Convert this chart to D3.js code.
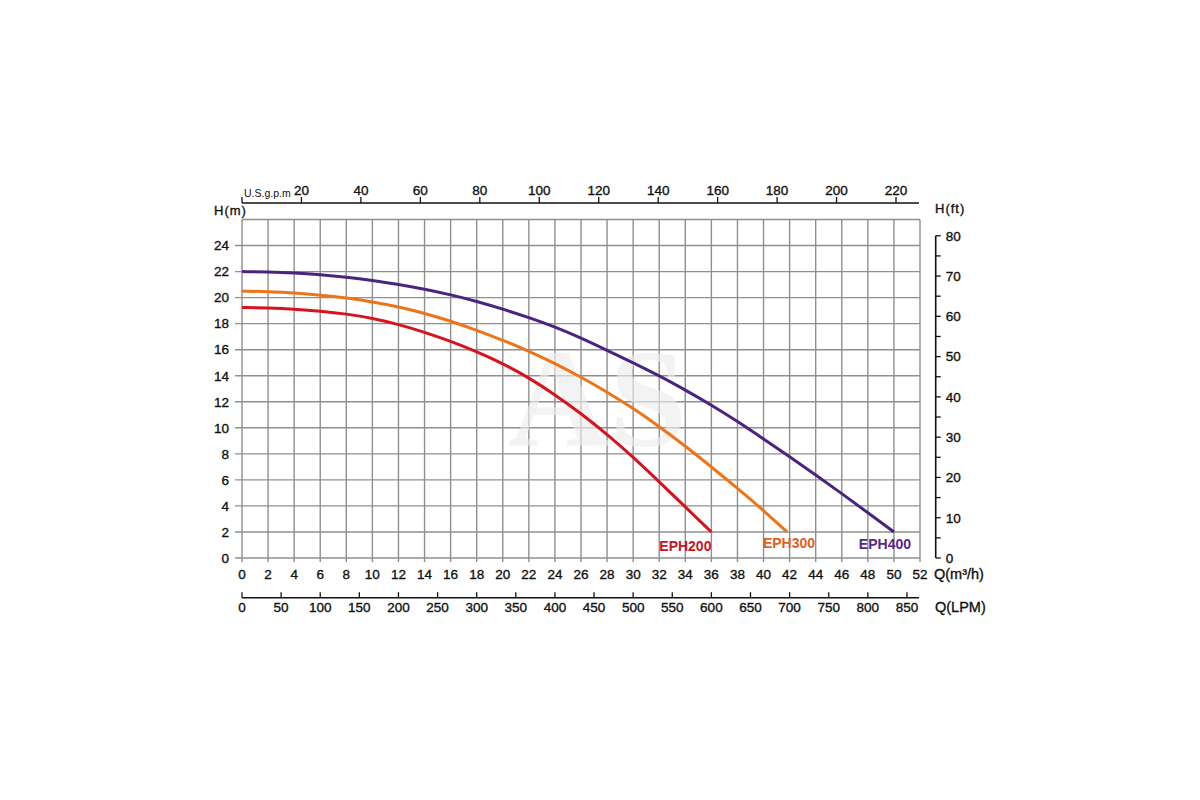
<!DOCTYPE html>
<html>
<head>
<meta charset="utf-8">
<script src="https://cdn.jsdelivr.net/npm/d3@7"></script>
<style>
    body { margin: 0; background: #fff; }
    text { font-family: "Liberation Sans", Arial, sans-serif; fill: #111; }
    text.tk { stroke: #111; stroke-width: 0.35px; }
</style>
</head>
<body>
<svg id="vis" width="1200" height="800"></svg>
<script>
/**
 * Chart data
 */
var qTicks   = [0,2,4,6,8,10,12,14,16,18,20,22,24,26,28,30,32,34,36,38,40,42,44,46,48,50,52];   // m3/h
var hGrid    = [0,2,4,6,8,10,12,14,16,18,20,22,24,26];                                            // m
var hLabels  = [0,2,4,6,8,10,12,14,16,18,20,22,24];
var ftTicks  = [0,5,10,15,20,25,30,35,40,45,50,55,60,65,70,75,80];
var ftLabels = [0,10,20,30,40,50,60,70,80];
var gpmTicks = [20,40,60,80,100,120,140,160,180,200,220];
var lpmTicks = [0,50,100,150,200,250,300,350,400,450,500,550,600,650,700,750,800,850];

var seriesNames = ["EPH200", "EPH300", "EPH400"];

var eph200Q = [0,2,4,6,8,10,12,14,16,18,20,22,24,26,28,30,32,34,36];
var eph200H = [19.25,19.21,19.12,18.97,18.75,18.42,17.95,17.35,16.65,15.85,14.95,13.85,12.55,11.1,9.5,7.75,5.85,3.92,2.0];

var eph300Q = [0,2,4,6,8,10,12,14,16,18,20,22,24,26,28,30,32,34,36,38,40,41.8];
var eph300H = [20.5,20.46,20.36,20.2,19.98,19.68,19.3,18.8,18.2,17.5,16.73,15.9,14.95,13.9,12.75,11.5,10.1,8.6,7.0,5.35,3.65,2.0];

var eph400Q = [0,2,4,6,8,10,12,14,16,18,20,22,24,26,28,30,32,34,36,38,40,42,44,46,48,50];
var eph400H = [22.0,21.97,21.9,21.77,21.58,21.33,21.02,20.65,20.22,19.72,19.12,18.47,17.75,16.9,15.95,15.0,14.0,12.9,11.75,10.5,9.15,7.78,6.38,4.95,3.48,2.0];

// unit conversions used by the secondary axes
var LPM_PER_M3H = 1000 / 60;
var M3H_PER_GPM = 0.228;     // as printed on the chart
var M_AT_80FT   = 24.75;     // as printed on the chart

/**
 * Styles
 */
var lineColors  = ["#d7141d", "#ee7419", "#4b2482"];
var labelColors = ["#c8141e", "#e2601f", "#55288a"];
var labelDx = [-26, 2, -9];
var labelDy = [19.5, 16, 17];
var gridColor = "#8f8f8f";
var tickFont = "13.5px";

var svg = d3.select("#vis");

// main scales (m3/h, m)
var x = d3.scaleLinear().domain([0, 52]).range([242, 920]);
var y = d3.scaleLinear().domain([0, 26]).range([558, 219.5]);

// secondary scales
var xGpm = d3.scaleLinear().domain([0, 220]).range([x(0), x(220 * M3H_PER_GPM)]);
var xLpm = d3.scaleLinear().domain([0, 52 * LPM_PER_M3H]).range([x(0), x(52)]);
var yFt  = d3.scaleLinear().domain([0, 80]).range([y(0), y(M_AT_80FT)]);

var topAxisY = 203;
var lpmAxisY = 597.7;
var ftAxisX  = 935.7;

/* ---------- grid ---------- */
var grid = svg.append("g").attr("stroke", gridColor).attr("stroke-width", 1.4);

grid.selectAll("line.v")
    .data(qTicks)
    .enter()
    .append("line")
    .attr("class", "v")
    .attr("x1", function(d){ return x(d); })
    .attr("x2", function(d){ return x(d); })
    .attr("y1", y(26))
    .attr("y2", y(0) + 4);

grid.selectAll("line.h")
    .data(hGrid)
    .enter()
    .append("line")
    .attr("class", "h")
    .attr("x1", function(d){ return hLabels.indexOf(d) >= 0 ? x(0) - 7 : x(0); })
    .attr("x2", x(52))
    .attr("y1", function(d){ return y(d); })
    .attr("y2", function(d){ return y(d); });

/* ---------- watermark ---------- */
svg.append("text")
    .attr("x", x(20.4))
    .attr("y", y(8.6))
    .style("font-family", "'Liberation Serif', 'DejaVu Serif', serif")
    .style("font-weight", "bold")
    .style("font-size", "140px")
    .style("fill", "rgba(236,236,236,0.65)")
    .text("AS");

/* ---------- left axis labels (m) ---------- */
svg.append("g").selectAll("text")
    .data(hLabels)
    .enter()
    .append("text")
    .attr("class", "tk")
    .attr("x", x(0) - 13)
    .attr("y", function(d){ return y(d) + 4.8; })
    .style("font-size", tickFont)
    .style("text-anchor", "end")
    .text(function(d){ return d; });

svg.append("text")
    .attr("class", "tk")
    .attr("x", 214)
    .attr("y", 214.5)
    .style("font-size", "13px")
    .style("letter-spacing", "1px")
    .text("H(m)");

/* ---------- bottom axis labels (m3/h) ---------- */
svg.append("g").selectAll("text")
    .data(qTicks)
    .enter()
    .append("text")
    .attr("class", "tk")
    .attr("x", function(d){ return x(d); })
    .attr("y", 578.8)
    .style("font-size", tickFont)
    .style("text-anchor", "middle")
    .text(function(d){ return d; });

svg.append("text")
    .attr("class", "tk")
    .attr("x", 934)
    .attr("y", 579)
    .style("font-size", "14.5px")
    .text("Q(m³/h)");

/* ---------- LPM axis ---------- */
var lpmAx = svg.append("g");
lpmAx.append("line")
    .attr("x1", x(0)).attr("x2", x(52) - 1)
    .attr("y1", lpmAxisY).attr("y2", lpmAxisY)
    .attr("stroke", "#111").attr("stroke-width", 1.6);
lpmAx.selectAll("line.t")
    .data(lpmTicks)
    .enter()
    .append("line")
    .attr("class", "t")
    .attr("x1", function(d){ return xLpm(d); })
    .attr("x2", function(d){ return xLpm(d); })
    .attr("y1", lpmAxisY - 5.5)
    .attr("y2", lpmAxisY)
    .attr("stroke", "#111").attr("stroke-width", 1.3);
lpmAx.selectAll("text")
    .data(lpmTicks)
    .enter()
    .append("text")
    .attr("class", "tk")
    .attr("x", function(d){ return xLpm(d); })
    .attr("y", 611.5)
    .style("font-size", tickFont)
    .style("text-anchor", "middle")
    .text(function(d){ return d; });

svg.append("text")
    .attr("class", "tk")
    .attr("x", 935)
    .attr("y", 611.5)
    .style("font-size", "14.5px")
    .text("Q(LPM)");

/* ---------- top axis (US gpm) ---------- */
var gpmAx = svg.append("g");
gpmAx.append("line")
    .attr("x1", x(0)).attr("x2", x(52) - 1)
    .attr("y1", topAxisY).attr("y2", topAxisY)
    .attr("stroke", "#111").attr("stroke-width", 1.6);
gpmAx.selectAll("line.t")
    .data([0].concat(gpmTicks))
    .enter()
    .append("line")
    .attr("class", "t")
    .attr("x1", function(d){ return xGpm(d); })
    .attr("x2", function(d){ return xGpm(d); })
    .attr("y1", topAxisY - 6)
    .attr("y2", topAxisY)
    .attr("stroke", "#111").attr("stroke-width", 1.3);
gpmAx.selectAll("text")
    .data(gpmTicks)
    .enter()
    .append("text")
    .attr("class", "tk")
    .attr("x", function(d){ return xGpm(d); })
    .attr("y", 194.8)
    .style("font-size", tickFont)
    .style("text-anchor", "middle")
    .text(function(d){ return d; });

svg.append("text")
    .attr("x", x(0) + 2)
    .attr("y", 197)
    .style("font-size", "10.5px")
    .text("U.S.g.p.m");

/* ---------- right axis (ft) ---------- */
var ftAx = svg.append("g");
ftAx.append("line")
    .attr("x1", ftAxisX).attr("x2", ftAxisX)
    .attr("y1", yFt(80)).attr("y2", yFt(0))
    .attr("stroke", "#111").attr("stroke-width", 1.6);
ftAx.selectAll("line.t")
    .data(ftTicks)
    .enter()
    .append("line")
    .attr("class", "t")
    .attr("x1", ftAxisX)
    .attr("x2", ftAxisX + 5)
    .attr("y1", function(d){ return yFt(d); })
    .attr("y2", function(d){ return yFt(d); })
    .attr("stroke", "#111").attr("stroke-width", 1.3);
ftAx.selectAll("text")
    .data(ftLabels)
    .enter()
    .append("text")
    .attr("class", "tk")
    .attr("x", ftAxisX + 10)
    .attr("y", function(d){ return yFt(d) + 4.8; })
    .style("font-size", tickFont)
    .text(function(d){ return d; });

svg.append("text")
    .attr("class", "tk")
    .attr("x", 935)
    .attr("y", 213)
    .style("font-size", "13px")
    .style("letter-spacing", "1px")
    .text("H(ft)");

/* ---------- curves ---------- */
var curveQ = [eph200Q, eph300Q, eph400Q];
var curveH = [eph200H, eph300H, eph400H];

var line = d3.line()
    .x(function(d){ return x(d[0]); })
    .y(function(d){ return y(d[1]); })
    .curve(d3.curveBasis);   // smooths the hand-read points

seriesNames.forEach(function(name, i){
    var pts = d3.zip(curveQ[i], curveH[i]);
    svg.append("path")
        .datum(pts)
        .attr("d", line)
        .attr("fill", "none")
        .attr("stroke", lineColors[i])
        .attr("stroke-width", 3);

    var last = pts[pts.length - 1];
    svg.append("text")
        .attr("x", x(last[0]) + labelDx[i])
        .attr("y", y(last[1]) + labelDy[i])
        .style("font-size", "14px")
        .style("font-weight", "bold")
        .style("text-anchor", "middle")
        .style("fill", labelColors[i])
        .text(name);
});
</script>
</body>
</html>
